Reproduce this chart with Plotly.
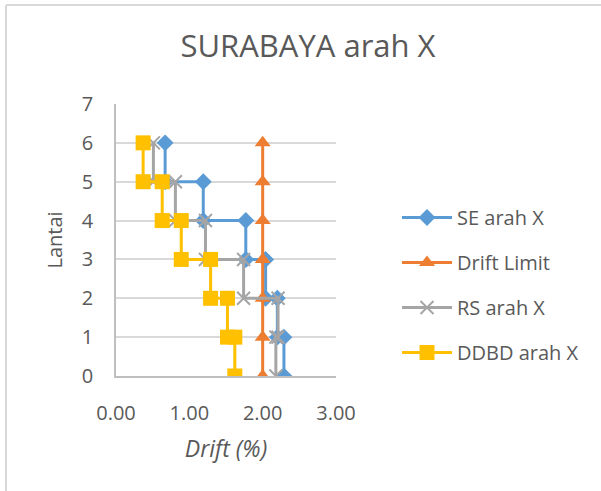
import plotly.graph_objects as go

# Story drift per level (story 1..6)
levels = [0, 1, 2, 3, 4, 5, 6]
se_drift = [2.29, 2.20, 2.04, 1.77, 1.19, 0.67]      # SE arah X
rs_drift = [2.18, 2.21, 1.74, 1.22, 0.81, 0.51]      # RS arah X
ddbd_drift = [1.62, 1.52, 1.29, 0.89, 0.63, 0.37]    # DDBD arah X
limit_x = [2.0, 2.0, 2.0, 2.0, 2.0, 2.0, 2.0]        # Drift Limit

def step_xy(drifts):
    xs, ys = [], []
    for i, d in enumerate(drifts):
        xs += [d, d]
        ys += [levels[i], levels[i + 1]]
    return xs, ys

FONT = "Open Sans"
TXT = "#595959"

# plot area in pixels
L, R, T, B = 116, 336, 104, 376
PW, PH = R - L, B - T

fig = go.Figure()
sx, sy = step_xy(se_drift)
fig.add_trace(go.Scatter(x=sx, y=sy, name="SE arah X", mode="lines+markers",
                         line=dict(color="#5B9BD5", width=3),
                         marker=dict(symbol="diamond", size=13, color="#5B9BD5"),
                         legendgroup="a"))
fig.add_trace(go.Scatter(x=limit_x, y=levels, name="Drift Limit", mode="lines+markers",
                         line=dict(color="#ED7D31", width=3),
                         marker=dict(symbol="triangle-up", size=14, color="#ED7D31"),
                         legendgroup="b"))
rx, ry = step_xy(rs_drift)
fig.add_trace(go.Scatter(x=rx, y=ry, name="RS arah X", mode="lines+markers",
                         line=dict(color="#A5A5A5", width=3),
                         marker=dict(symbol="x-thin", size=13, color="#A5A5A5",
                                     line=dict(color="#A5A5A5", width=2)),
                         legendgroup="c"))
dx, dy = step_xy(ddbd_drift)
fig.add_trace(go.Scatter(x=dx, y=dy, name="DDBD arah X", mode="lines+markers",
                         line=dict(color="#FFC000", width=3),
                         marker=dict(symbol="square", size=15, color="#FFC000"),
                         legendgroup="d"))

fig.update_layout(
    width=601, height=491,
    margin=dict(l=L, r=601 - R, t=T, b=491 - B, autoexpand=False),
    paper_bgcolor="white", plot_bgcolor="white",
    font=dict(family=FONT, color=TXT),
    title=dict(text="SURABAYA arah X", x=308 / 601, xanchor="center",
               y=1 - 46 / 491, yanchor="middle",
               font=dict(family=FONT, size=31, color=TXT)),
    xaxis=dict(range=[0, 3], dtick=1, tickformat=".2f", showgrid=False,
               showline=True, linecolor="#BFBFBF", linewidth=1.5, zeroline=False,
               tickfont=dict(size=20, color=TXT), ticklabelstandoff=18,
               title=dict(text="<i>Drift (%)</i>", font=dict(size=23, color=TXT), standoff=16)),
    yaxis=dict(range=[0, 7], dtick=1, showgrid=True, gridcolor="#D9D9D9", gridwidth=1.5,
               showline=True, linecolor="#BFBFBF", linewidth=1.5, zeroline=False,
               tickfont=dict(size=20, color=TXT), ticklabelstandoff=17,
               title=dict(text="Lantai", font=dict(size=20, color=TXT), standoff=14)),
    legend=dict(x=(397 - L) / PW, xanchor="left", y=(B - 198) / PH, yanchor="top",
                font=dict(size=20, color=TXT), tracegroupgap=16,
                itemwidth=50, bgcolor="rgba(0,0,0,0)"),
    shapes=[
        dict(type="line", xref="paper", yref="paper",
             x0=(6 - L) / PW, x1=(6 - L) / PW, y0=(B - 5) / PH, y1=(B - 520) / PH,
             line=dict(color="#D9D9D9", width=2)),
        dict(type="line", xref="paper", yref="paper",
             x0=(6 - L) / PW, x1=(640 - L) / PW, y0=(B - 5) / PH, y1=(B - 5) / PH,
             line=dict(color="#D9D9D9", width=2)),
    ],
)

fig.write_html("out.html", config={"displayModeBar": False},
               post_script="document.body.style.margin='0';")
